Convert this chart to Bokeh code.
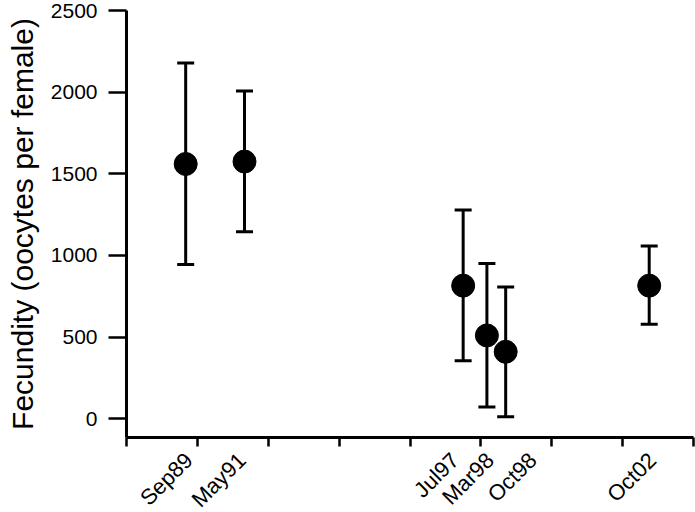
import math
from bokeh.plotting import figure
from bokeh.layouts import column
from bokeh.models import (ColumnDataSource, Range1d, FixedTicker, Whisker, TeeHead)
from bokeh.core.properties import value
from bokeh.embed import file_html
from bokeh.resources import INLINE

# ---- data ----
dates = ["Sep89", "May91", "Jul97", "Mar98", "Oct98", "Oct02"]
x_year = [1989.67, 1991.33, 1997.50, 1998.17, 1998.70, 2002.75]
fecundity = [1560, 1575, 815, 510, 410, 815]
upper = [2178, 2007, 1278, 950, 806, 1058]
lower = [945, 1145, 355, 72, 12, 578]
year_ticks = [1988, 1990, 1992, 1994, 1996, 1998, 2000, 2002, 2004]
y_ticks = [0, 500, 1000, 1500, 2000, 2500]

# ---- label placement (layout only, in years relative to each date) ----
label_shift = [0.09, -0.07, -0.23, 0.09, 0.77, 0.09]

src = ColumnDataSource(dict(x=x_year, y=fecundity, up=upper, lo=lower))
lab_src = ColumnDataSource(dict(
    lx=[x + s for x, s in zip(x_year, label_shift)],
    ly=[56] * len(dates),
    txt=dates))

FONT = "Liberation Sans"

# ---- main plot ----
p = figure(width=695, height=447, output_backend="svg", toolbar_location=None,
           x_range=Range1d(1988, 2004), y_range=Range1d(-115, 2500),
           min_border_left=126, min_border_right=2, min_border_top=10,
           min_border_bottom=10)
p.outline_line_color = None
p.xgrid.visible = False
p.ygrid.visible = False
p.background_fill_color = "white"

w = Whisker(source=src, base="x", upper="up", lower="lo",
            line_color="black", line_width=3,
            upper_head=TeeHead(size=17, line_width=3, line_color="black"),
            lower_head=TeeHead(size=17, line_width=3, line_color="black"))
p.add_layout(w)
p.scatter("x", "y", source=src, size=23, marker="circle",
          fill_color="black", line_color="black")

# x axis: year tick marks only
xa = p.xaxis[0]
xa.ticker = FixedTicker(ticks=[], minor_ticks=year_ticks)
xa.major_tick_line_color = None
xa.minor_tick_out = 9
xa.minor_tick_in = 0
xa.minor_tick_line_width = 2.5
xa.minor_tick_line_color = "black"
xa.axis_line_width = 3
xa.axis_line_color = "black"

# y axis
ya = p.yaxis[0]
ya.ticker = FixedTicker(ticks=y_ticks)
ya.minor_tick_line_color = None
ya.major_tick_out = 18
ya.major_tick_in = 0
ya.major_tick_line_width = 2.5
ya.major_tick_line_color = "black"
ya.axis_line_width = 3
ya.axis_line_color = "black"
ya.major_label_standoff = 11
ya.major_label_text_font = FONT
ya.major_label_text_font_size = "21px"
ya.major_label_text_color = "black"
ya.axis_label = "Fecundity (oocytes per female)"
ya.axis_label_text_font = FONT
ya.axis_label_text_font_size = "30px"
ya.axis_label_text_font_style = "normal"
ya.axis_label_text_color = "black"
ya.axis_label_standoff = 9

# ---- strip below for rotated date labels (shares the x scale) ----
pb = figure(width=695, height=65, output_backend="svg", toolbar_location=None,
            x_range=p.x_range, y_range=Range1d(0, 65),
            x_axis_location=None, y_axis_location=None,
            min_border_left=126, min_border_right=2, min_border_top=0,
            min_border_bottom=0)
pb.outline_line_color = None
pb.xgrid.visible = False
pb.ygrid.visible = False
pb.background_fill_color = "white"
pb.text(x="lx", y="ly", text="txt", source=lab_src, angle=math.pi / 4,
        text_align="right", text_baseline="middle",
        text_font=value(FONT), text_font_size=value("22px"), text_color="black")

layout = column(p, pb, spacing=0)
open("out.html", "w").write(file_html(layout, INLINE))
